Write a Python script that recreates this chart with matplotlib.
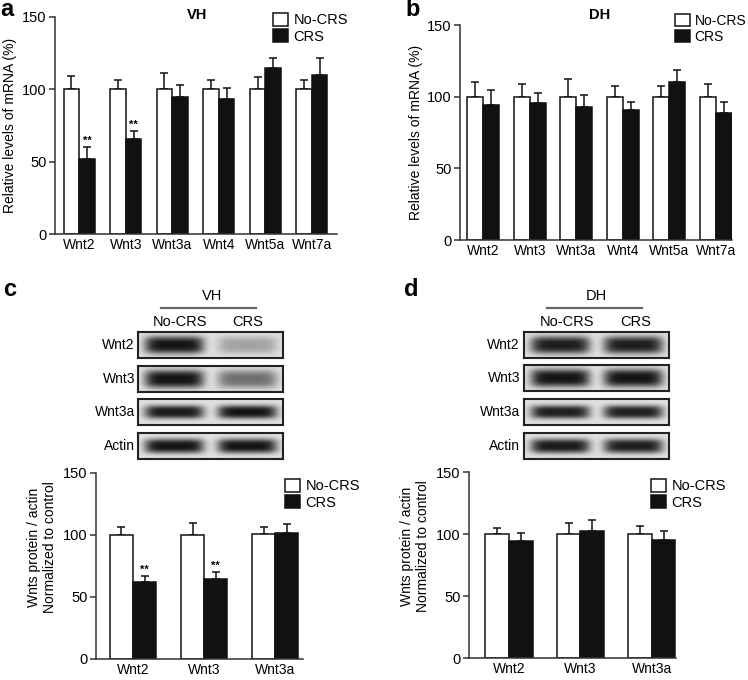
import numpy as np
import matplotlib
matplotlib.use("Agg")
import matplotlib.pyplot as plt

plt.rcParams['font.family'] = ['Liberation Sans', 'DejaVu Sans']
plt.rcParams['font.size'] = 10

W, H = 748, 680

# mRNA data (panels a, b)
mrna_genes = ["Wnt2", "Wnt3", "Wnt3a", "Wnt4", "Wnt5a", "Wnt7a"]
vh_ctrl = [100, 100, 100, 100, 100, 100]
vh_ctrl_err = [9.5, 6.5, 11.5, 6.5, 8.5, 6.5]
vh_crs = [52, 66, 95, 93.5, 114.5, 110]
vh_crs_err = [8, 5, 8, 7.5, 7, 11.5]
vh_stars = ["**", "**", "", "", "", ""]

dh_ctrl = [100, 100, 100, 100, 100, 100]
dh_ctrl_err = [10, 8.5, 12, 7.5, 7.5, 8.5]
dh_crs = [94, 95.5, 92.5, 90.5, 110.5, 88.5]
dh_crs_err = [11, 7, 9, 5.5, 8, 8]

# protein data (panels c, d)
prot_genes = ["Wnt2", "Wnt3", "Wnt3a"]
vhp_ctrl = [100, 100, 100.5]
vhp_ctrl_err = [6.5, 10, 6]
vhp_crs = [62.5, 64.5, 101.5]
vhp_crs_err = [4.5, 5.5, 7]
vhp_stars = ["**", "**", ""]

dhp_ctrl = [100, 100, 100]
dhp_ctrl_err = [4.5, 9, 6.5]
dhp_crs = [94.5, 102.5, 95]
dhp_crs_err = [6, 9, 7.5]

# western blot band darkness per lane (No-CRS, CRS)
blot_rows = ["Wnt2", "Wnt3", "Wnt3a", "Actin"]
vh_bands = [[1.0, 0.3], [1.0, 0.55], [0.97, 1.0], [1.0, 1.0]]
dh_bands = [[0.95, 0.95], [1.0, 1.0], [0.95, 0.95], [0.97, 0.95]]
band_thick = [0.68, 0.7, 0.52, 0.56]

fig = plt.figure(figsize=(W / 100, H / 100), dpi=100)


def px_axes(left, top, right, bottom):
    return fig.add_axes([left / W, 1 - bottom / H, (right - left) / W, (bottom - top) / H])


def ftext(x, y, s, **kw):
    fig.text(x / W, 1 - y / H, s, **kw)


def bar_panel(ax, genes, c, ce, t, te, xlim, width, stars=None):
    x = np.arange(len(genes))
    z = np.zeros(len(genes))
    ax.bar(x - width / 2, c, width, color='white', edgecolor='#111111', linewidth=1.1, label='No-CRS', zorder=2)
    ax.bar(x + width / 2, t, width, color='#111111', edgecolor='#111111', linewidth=1.1, label='CRS', zorder=2)
    ax.errorbar(x - width / 2, c, yerr=[z, ce], fmt='none', ecolor='#111111', elinewidth=1.1, capsize=3, capthick=1.1, zorder=1)
    ax.errorbar(x + width / 2, t, yerr=[z, te], fmt='none', ecolor='#111111', elinewidth=1.1, capsize=3, capthick=1.1, zorder=1)
    if stars:
        for i, s in enumerate(stars):
            if s:
                ax.text(x[i] + width / 2, t[i] + te[i] + 1, s, ha='center', va='bottom', fontsize=8, fontweight='bold')
    ax.set_xlim(*xlim)
    ax.set_ylim(0, 150)
    ax.set_yticks([0, 50, 100, 150])
    ax.set_xticks(x)
    ax.set_xticklabels(genes)
    for sp in ['top', 'right']:
        ax.spines[sp].set_visible(False)
    for sp in ['left', 'bottom']:
        ax.spines[sp].set_linewidth(1.1)
        ax.spines[sp].set_color('#333333')
    ax.tick_params(axis='y', direction='out', length=4, width=1.1, color='#333333', pad=2, labelsize=10.5)
    ax.tick_params(axis='x', length=0, pad=3, labelsize=10)
    ax.patch.set_alpha(0)


def legend_at(ax, x, y, fs=10.5):
    ax.legend(loc='upper left', bbox_to_anchor=(x / W, 1 - y / H), bbox_transform=fig.transFigure,
              frameon=False, handlelength=1.05, handleheight=0.95, handletextpad=0.35,
              labelspacing=0.15, borderpad=0, borderaxespad=0, fontsize=fs)


# panel a
ax_a = px_axes(55, 17, 337, 234)
bar_panel(ax_a, mrna_genes, vh_ctrl, vh_ctrl_err, vh_crs, vh_crs_err, (-0.52, 5.54), 0.335, vh_stars)
legend_at(ax_a, 273, 13)
ftext(197, 15, "VH", ha='center', va='center', fontweight='bold', fontsize=10.5)
ftext(10, 125, "Relative levels of mRNA (%)", rotation=90, ha='center', va='center', fontsize=10)
ftext(0, 10, "a", ha='left', va='center', fontweight='bold', fontsize=17)

# panel b
ax_b = px_axes(460, 25, 732, 240)
bar_panel(ax_b, mrna_genes, dh_ctrl, dh_ctrl_err, dh_crs, dh_crs_err, (-0.5, 5.35), 0.34)
legend_at(ax_b, 675, 14, fs=10)
ftext(600, 15, "DH", ha='center', va='center', fontweight='bold', fontsize=10.5)
ftext(416, 132, "Relative levels of mRNA (%)", rotation=90, ha='center', va='center', fontsize=10)
ftext(405, 10, "b", ha='left', va='center', fontweight='bold', fontsize=17)

# panel c
ax_c = px_axes(96, 473, 303, 659)
bar_panel(ax_c, prot_genes, vhp_ctrl, vhp_ctrl_err, vhp_crs, vhp_crs_err, (-0.52, 2.39), 0.325, vhp_stars)
legend_at(ax_c, 285, 479)
ftext(42, 547, "Wnts protein / actin\nNormalized to control", rotation=90, ha='center', va='center',
      fontsize=10, multialignment='center', linespacing=1.1)
ftext(3, 290, "c", ha='left', va='center', fontweight='bold', fontsize=17)

# panel d
ax_d = px_axes(469, 472, 676, 658)
bar_panel(ax_d, prot_genes, dhp_ctrl, dhp_ctrl_err, dhp_crs, dhp_crs_err, (-0.56, 2.34), 0.33)
legend_at(ax_d, 651, 479)
ftext(415, 546, "Wnts protein / actin\nNormalized to control", rotation=90, ha='center', va='center',
      fontsize=10, multialignment='center', linespacing=1.1)
ftext(404, 290, "d", ha='left', va='center', fontweight='bold', fontsize=17)


def band_image(levels, thick, nx=300, ny=60):
    xx = np.linspace(0, 1, nx)
    yy = np.linspace(-1, 1, ny)[:, None]
    img = np.full((ny, nx), 0.88)
    centers = [0.25, 0.755]
    for lvl, cx in zip(levels, centers):
        hx = np.exp(-np.abs((xx - cx) / 0.205) ** 6)
        vy = np.exp(-np.abs(yy / thick) ** 3)
        img = img - lvl * 0.8 * hx[None, :] * vy
    return np.clip(img, 0, 1)


def blot_panel(box_left, box_right, tops, bands, header, hx, line_x, lane_x, label_x):
    for name, lv, th, top in zip(blot_rows, bands, band_thick, tops):
        bax = px_axes(box_left, top, box_right, top + 26)
        bax.imshow(band_image(lv, th), cmap='gray', vmin=0, vmax=1, aspect='auto', interpolation='bilinear')
        bax.set_xticks([])
        bax.set_yticks([])
        for sp in bax.spines.values():
            sp.set_linewidth(1.5)
            sp.set_color('#222222')
        ftext(label_x, top + 13, name, ha='right', va='center', fontsize=10)
    ftext(hx, 296, header, ha='center', va='center', fontsize=10.5)
    fig.add_artist(plt.Line2D([line_x[0] / W, line_x[1] / W], [1 - 308 / H, 1 - 308 / H],
                              color='#666666', linewidth=1.6))
    ftext(lane_x[0], 322, "No-CRS", ha='center', va='center', fontsize=10.5)
    ftext(lane_x[1], 322, "CRS", ha='center', va='center', fontsize=10.5)


blot_panel(138, 283, [332, 366, 399, 433], vh_bands, "VH", 212, (161, 256), (180, 248), 135)
blot_panel(524, 669, [332, 365, 399, 433], dh_bands, "DH", 596, (547, 642), (567, 636), 520)

fig.savefig("out.png", dpi=100)
